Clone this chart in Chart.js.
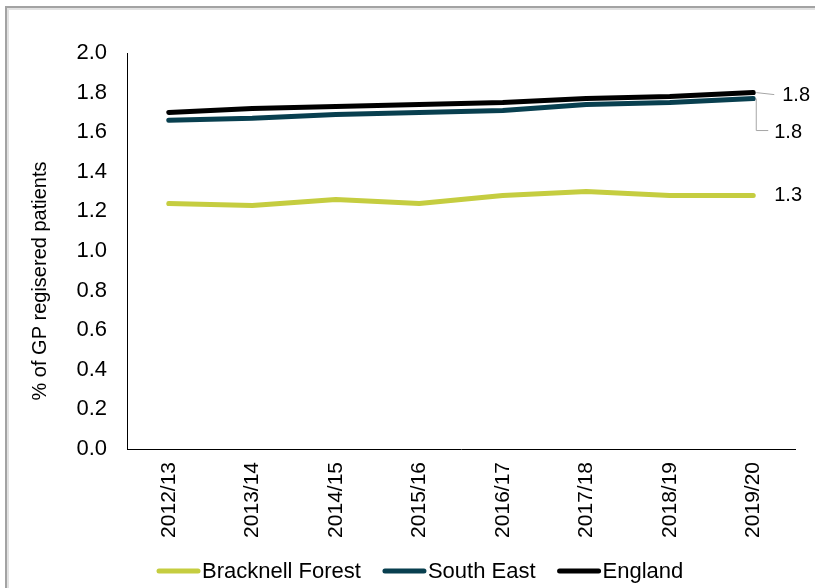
<!DOCTYPE html>
<html>
<head>
<meta charset="utf-8">
<script src="https://cdn.jsdelivr.net/npm/chart.js@4"></script>
<style>
    html, body { margin: 0; padding: 0; background: #fff; }
    #wrap { position: relative; width: 815px; height: 588px; overflow: hidden; }
    #frame {
        position: absolute; left: 5px; top: 6px; width: 900px; height: 700px;
        border-left: 2px solid #a3a3a3; border-top: 2px solid #a3a3a3;
        box-shadow: inset 2px 2px 0 #e2e2e2;
    }
    canvas { position: absolute; left: 0; top: 0; }
</style>
</head>
<body>
<div id="wrap">
    <div id="frame"></div>
    <canvas id="chart" width="815" height="588"></canvas>
</div>
<script>
// --- dados ---
const years = ['2012/13', '2013/14', '2014/15', '2015/16', '2016/17', '2017/18', '2018/19', '2019/20'];
const bracknellForest = [1.24, 1.23, 1.26, 1.24, 1.28, 1.30, 1.28, 1.28];
const southEast = [1.66, 1.67, 1.69, 1.70, 1.71, 1.74, 1.75, 1.77];
const england = [1.70, 1.72, 1.73, 1.74, 1.75, 1.77, 1.78, 1.80];
const yTicks = [0, 0.2, 0.4, 0.6, 0.8, 1.0, 1.2, 1.4, 1.6, 1.8, 2.0];
const yTitle = '% of GP regisered patients';

const FONT = "'Liberation Sans', Arial, sans-serif";

// título do eixo Y (um pouco abaixo do centro, como no original)
const yAxisTitle = {
    id: 'yAxisTitle',
    afterDraw(chart) {
        const ctx = chart.ctx;
        ctx.save();
        ctx.translate(40, 281);
        ctx.rotate(-Math.PI / 2);
        ctx.font = '20px ' + FONT;
        ctx.fillStyle = '#000';
        ctx.textAlign = 'center';
        ctx.textBaseline = 'middle';
        ctx.fillText(yTitle, 0, 0);
        ctx.restore();
    }
};

// rótulo do último ponto, com linha guia
const endLabels = {
    id: 'endLabels',
    afterDatasetsDraw(chart) {
        const ctx = chart.ctx;
        const styles = [
            { dx: 21, dy: 0, leader: null },
            { dx: 21, dy: 34, leader: 'elbow' },
            { dx: 29, dy: 3, leader: 'straight' }
        ];
        ctx.save();
        ctx.font = '20px ' + FONT;
        ctx.textBaseline = 'middle';
        ctx.textAlign = 'left';
        chart.data.datasets.forEach((ds, i) => {
            const meta = chart.getDatasetMeta(i);
            const pt = meta.data[meta.data.length - 1];
            const v = ds.data[ds.data.length - 1];
            const s = styles[i];
            const tx = pt.x + s.dx, ty = pt.y + s.dy;
            ctx.strokeStyle = '#a6a6a6';
            ctx.lineWidth = 1;
            if (s.leader === 'elbow') {
                ctx.beginPath();
                ctx.moveTo(pt.x + 3, pt.y);
                ctx.lineTo(pt.x + 3, ty - 2);
                ctx.lineTo(tx - 6, ty - 2);
                ctx.stroke();
            } else if (s.leader === 'straight') {
                ctx.beginPath();
                ctx.moveTo(pt.x + 3, pt.y);
                ctx.lineTo(tx - 8, ty - 1);
                ctx.stroke();
            }
            ctx.fillStyle = '#000';
            ctx.fillText(v.toFixed(1), tx, ty);
        });
        ctx.restore();
    }
};

// legenda desenhada à mão (linha + texto colados)
const bottomLegend = {
    id: 'bottomLegend',
    afterDraw(chart) {
        const ctx = chart.ctx;
        const y = 571;
        const lineW = 43, gap = 2, itemGap = 22;
        ctx.save();
        ctx.font = '22px ' + FONT;
        ctx.textBaseline = 'middle';
        const items = chart.data.datasets.map(ds => ({
            label: ds.label, color: ds.borderColor,
            w: lineW + gap + ctx.measureText(ds.label).width
        }));
        let x = 157;
        items.forEach(it => {
            ctx.strokeStyle = it.color;
            ctx.lineWidth = 5;
            ctx.lineCap = 'round';
            ctx.beginPath();
            ctx.moveTo(x + 2, y);
            ctx.lineTo(x + lineW - 2, y);
            ctx.stroke();
            ctx.fillStyle = '#000';
            ctx.fillText(it.label, x + lineW + gap, y + 1);
            x += it.w + itemGap;
        });
        ctx.restore();
    }
};

const ctx = document.getElementById('chart').getContext('2d');
new Chart(ctx, {
    type: 'line',
    data: {
        labels: years,
        datasets: [
            { label: 'Bracknell Forest', data: bracknellForest, borderColor: '#c5cd40' },
            { label: 'South East', data: southEast, borderColor: '#083f4f' },
            { label: 'England', data: england, borderColor: '#000000' }
        ]
    },
    options: {
        responsive: false,
        animation: false,
        devicePixelRatio: 1,
        layout: { padding: { left: 12, right: 20, top: 53, bottom: 49 } },
        elements: {
            line: { borderWidth: 5, tension: 0, borderCapStyle: 'round', borderJoinStyle: 'round' },
            point: { radius: 0, hoverRadius: 0 }
        },
        scales: {
            x: {
                offset: true,
                grid: { display: false, drawTicks: false },
                border: { display: true, color: '#000', width: 1 },
                ticks: {
                    color: '#000', font: { family: FONT, size: 21 },
                    maxRotation: 90, minRotation: 90, padding: 13, autoSkip: false
                },
                afterFit(scale) { scale.height = 90; }
            },
            y: {
                min: 0, max: 2,
                afterBuildTicks(scale) { scale.ticks = yTicks.map(v => ({ value: v })); },
                grid: { display: false, drawTicks: false },
                border: { display: true, color: '#000', width: 1 },
                ticks: {
                    color: '#000', font: { family: FONT, size: 22 }, padding: 20,
                    callback: v => Number(v).toFixed(1)
                },
                afterFit(scale) { scale.width = 115; }
            }
        },
        plugins: { legend: { display: false }, tooltip: { enabled: false } }
    },
    plugins: [endLabels, bottomLegend, yAxisTitle]
});
</script>
</body>
</html>
